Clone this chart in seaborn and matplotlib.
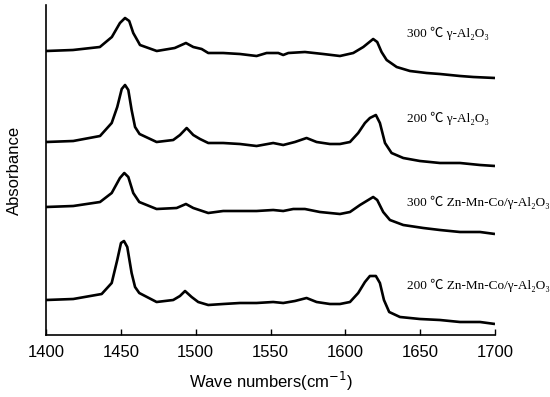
import matplotlib
matplotlib.use("Agg")
import matplotlib.pyplot as plt
import seaborn as sns
import numpy as np
import pandas as pd

# ---- data (wavenumber, absorbance offset-stacked, arbitrary units) ----
wn_300_al = [1400, 1418, 1436, 1444, 1449.4, 1452.8, 1455.6, 1458.3, 1461.7, 1462.8, 1474, 1486,
             1493.5, 1498.4, 1504, 1508.4, 1518.4, 1529.6, 1540.7, 1547.4, 1555.2, 1558.5, 1561.9,
             1573, 1585.2, 1596.4, 1605.3, 1612, 1618.6, 1621.3, 1624.2, 1627.6, 1634.3, 1643.2,
             1654.3, 1663.2, 1676.6, 1685.5, 1700]
a_300_al = [2.84, 2.85, 2.88, 2.98, 3.12, 3.17, 3.14, 3.02, 2.93, 2.90, 2.84, 2.87,
            2.92, 2.88, 2.86, 2.82, 2.82, 2.81, 2.79, 2.82, 2.82, 2.80, 2.82,
            2.83, 2.81, 2.79, 2.82, 2.88, 2.96, 2.93, 2.83, 2.75, 2.68, 2.64,
            2.62, 2.61, 2.59, 2.58, 2.57]

wn_200_al = [1400, 1418.2, 1436.1, 1443.9, 1447.6, 1450.6, 1452.8, 1455, 1457.2, 1459.5, 1462.5,
             1473.9, 1485, 1489.5, 1494, 1498.4, 1502.9, 1508.4, 1518.4, 1529.6, 1540.7, 1551.8,
             1558.5, 1566.3, 1574.1, 1580.8, 1589.7, 1596.4, 1603.1, 1608.6, 1613.1, 1616.4,
             1620.4, 1623.1, 1626.5, 1630.9, 1638.7, 1649.8, 1663.2, 1676.6, 1690, 1700]
a_200_al = [1.93, 1.94, 1.99, 2.12, 2.28, 2.46, 2.50, 2.45, 2.25, 2.08, 2.01,
            1.93, 1.95, 2.00, 2.07, 2.00, 1.96, 1.92, 1.92, 1.91, 1.89, 1.92,
            1.90, 1.93, 1.97, 1.93, 1.91, 1.91, 1.93, 2.02, 2.12, 2.17,
            2.20, 2.12, 1.92, 1.82, 1.77, 1.74, 1.72, 1.72, 1.70, 1.69]

wn_300_zmc = [1400, 1418.2, 1436.1, 1443.9, 1449.4, 1452.3, 1455, 1458.3, 1462.3, 1473.9, 1487.3,
              1493.5, 1498.4, 1508.4, 1518.4, 1529.6, 1540.7, 1551.8, 1558.5, 1565.2, 1573, 1583,
              1596.4, 1603.1, 1609.8, 1618.6, 1621.3, 1625.3, 1629.8, 1638.7, 1652.1, 1663.2,
              1676.6, 1690, 1700]
a_300_zmc = [1.28, 1.29, 1.33, 1.42, 1.57, 1.62, 1.58, 1.42, 1.33, 1.26, 1.27,
             1.31, 1.27, 1.22, 1.24, 1.24, 1.24, 1.25, 1.24, 1.26, 1.26, 1.23,
             1.21, 1.23, 1.30, 1.38, 1.35, 1.23, 1.15, 1.10, 1.07, 1.05,
             1.03, 1.03, 1.01]

wn_200_zmc = [1400, 1418.2, 1437.2, 1443.9, 1447.6, 1450.1, 1452.1, 1454.3, 1457.2, 1459.5, 1462.3,
              1473.9, 1485, 1489.5, 1492.9, 1497.3, 1501.7, 1508.4, 1518.4, 1529.6, 1540.7, 1551.8,
              1558.5, 1566.3, 1574.1, 1580.8, 1589.7, 1596.4, 1603.1, 1608.6, 1613.1, 1616.4,
              1620.4, 1623.1, 1625.8, 1629.3, 1636.5, 1649.8, 1663.2, 1676.6, 1690, 1700]
a_200_zmc = [0.35, 0.36, 0.41, 0.52, 0.75, 0.92, 0.94, 0.88, 0.62, 0.48, 0.42,
             0.33, 0.35, 0.39, 0.44, 0.38, 0.33, 0.30, 0.31, 0.32, 0.32, 0.33,
             0.32, 0.34, 0.37, 0.33, 0.31, 0.31, 0.33, 0.42, 0.53, 0.59,
             0.59, 0.52, 0.35, 0.23, 0.18, 0.16, 0.15, 0.13, 0.13, 0.11]

labels = ["300 ℃ γ-Al₂O₃", "200 ℃ γ-Al₂O₃",
          "300 ℃ Zn-Mn-Co/γ-Al₂O₃", "200 ℃ Zn-Mn-Co/γ-Al₂O₃"]
label_y = [3.02, 2.17, 1.33, 0.50]
x_ticks = [1400, 1450, 1500, 1550, 1600, 1650, 1700]

series = [(wn_300_al, a_300_al), (wn_200_al, a_200_al),
          (wn_300_zmc, a_300_zmc), (wn_200_zmc, a_200_zmc)]

sns.set_theme(style="white")
plt.rcParams["font.family"] = ["Liberation Sans", "DejaVu Sans"]

fig = plt.figure(figsize=(5.5, 3.97), dpi=100)
ax = fig.add_axes([46 / 550, 62 / 397, 449 / 550, 330 / 397])

for wn, a in series:
    df = pd.DataFrame({"wn": wn, "a": a})
    sns.lineplot(data=df, x="wn", y="a", ax=ax, color="black", lw=1.9,
                 estimator=None, sort=False, solid_joinstyle="round", solid_capstyle="butt")

for lab, ly in zip(labels, label_y):
    ax.text(1641, ly, lab, fontsize=9.5, color="black", va="center", ha="left",
            family=["Liberation Serif", "Noto Sans CJK SC", "DejaVu Serif"], clip_on=False)

ax.set_xlim(1400, 1700)
ax.set_ylim(0, 3.30)
ax.set_xticks(x_ticks)
ax.set_xticklabels([str(t) for t in x_ticks])
ax.set_yticks([])
ax.tick_params(axis="x", direction="in", length=4.5, width=1.0, color="black",
               labelsize=12, pad=7, bottom=True, labelcolor="black")
for s in ["top", "right"]:
    ax.spines[s].set_visible(False)
for s in ["left", "bottom"]:
    ax.spines[s].set_color("black")
    ax.spines[s].set_linewidth(1.2)
ax.set_xlabel("Wave numbers(cm$^{-1}$)", fontsize=12, labelpad=7)
ax.set_ylabel("Absorbance", fontsize=12, labelpad=17)
ax.xaxis.label.set_color("black")
ax.yaxis.label.set_color("black")

fig.savefig("out.png", dpi=100, facecolor="white")
